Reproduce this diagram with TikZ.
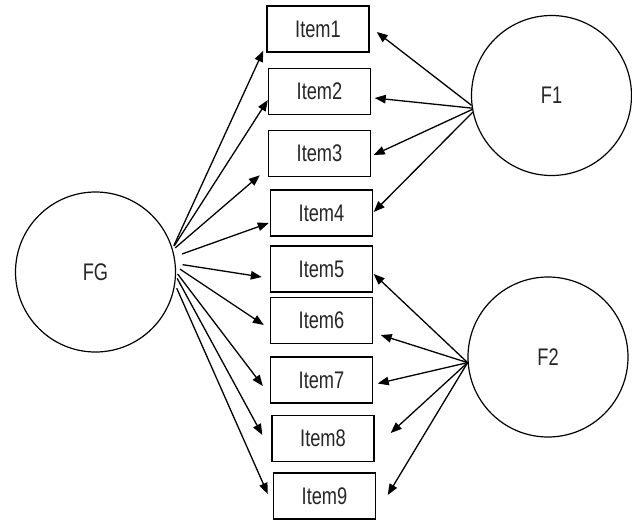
\documentclass[tikz,border=0pt]{standalone}
\usepackage{fontspec}
\usepackage{tikz}
\usetikzlibrary{arrows.meta}
\newfontfamily\narrowsans[FakeStretch=0.76]{Liberation Sans}
\tikzstyle{arrow} = [-{Triangle[length=11pt,width=8.5pt]}, line width=1.3pt]
\tikzstyle{item} = [draw, line width=1.4pt, minimum width=102pt, minimum height=46pt, inner sep=0pt, font=\narrowsans\fontsize{24}{28}\selectfont, text=black!85]
\tikzstyle{factor} = [draw, circle, line width=1.2pt, minimum size=160pt, inner sep=0pt, font=\narrowsans\fontsize{24}{28}\selectfont, text=black!85]

\begin{document}
\begin{tikzpicture}[x=1pt, y=-1pt]
        \useasboundingbox (0,0) rectangle (632,520);
        \node[factor] at (95.5,272) (FG) {FG};
        \node[factor] at (551.5,95.5) (F1) {F1};
        \node[factor] at (548,357) (F2) {F2};

        \node[item] at (318,29) (Item1) {Item1};
        \node[item] at (319.5,91.5) (Item2) {Item2};
        \node[item] at (319.5,153.5) (Item3) {Item3};
        \node[item] at (321.5,213) (Item4) {Item4};
        \node[item] at (321.5,269) (Item5) {Item5};
        \node[item] at (321.5,320.5) (Item6) {Item6};
        \node[item] at (321.5,380) (Item7) {Item7};
        \node[item] at (323,438.5) (Item8) {Item8};
        \node[item] at (324.5,496) (Item9) {Item9};

        % general factor
        \draw[arrow, shorten <=3pt] (FG.17) -- ([shift={(-3,-2)}]Item1.south west);
        \draw[arrow, shorten <=3pt] (FG.17) -- ([shift={(0,8.5)}]Item2.west);
        \draw[arrow, shorten <=3pt] (FG.16) -- ([shift={(-8,-2)}]Item3.south west);
        \draw[arrow, shorten <=8pt] (FG.11) -- ([shift={(-1,10)}]Item4.west);
        \draw[arrow, shorten <=7pt] (FG.6) -- ([shift={(-8,8)}]Item5.west);
        \draw[arrow, shorten <=5pt] (FG.4) -- ([shift={(-6,4.5)}]Item6.west);
        \draw[arrow, shorten <=2.5pt] (FG.0) -- ([shift={(-7,6)}]Item7.west);
        \draw[arrow, shorten <=2.5pt] (FG.-3) -- ([shift={(-9,-3.5)}]Item8.west);
        \draw[arrow, shorten <=4pt] (FG.-9) -- ([shift={(-5,-2)}]Item9.west);

        % specific factors
        \draw[arrow] (F1.187) -- ([shift={(7,3)}]Item1.east);
        \draw[arrow] (F1.189) -- ([shift={(3.5,6.5)}]Item2.east);
        \draw[arrow] (F1.190) -- ([shift={(2.5,1.5)}]Item3.east);
        \draw[arrow] (F1.192) -- ([shift={(0.5,-1)}]Item4.east);

        \draw[arrow] (F2.184) -- ([shift={(0.5,5)}]Item5.east);
        \draw[arrow] (F2.184) -- ([shift={(7.5,14.5)}]Item6.east);
        \draw[arrow] (F2.184) -- ([shift={(4.5,3.5)}]Item7.east);
        \draw[arrow] (F2.184) -- ([shift={(16,-5.5)}]Item8.east);
        \draw[arrow] (F2.184) -- ([shift={(11.5,-1)}]Item9.east);
    \end{tikzpicture}
\end{document}
